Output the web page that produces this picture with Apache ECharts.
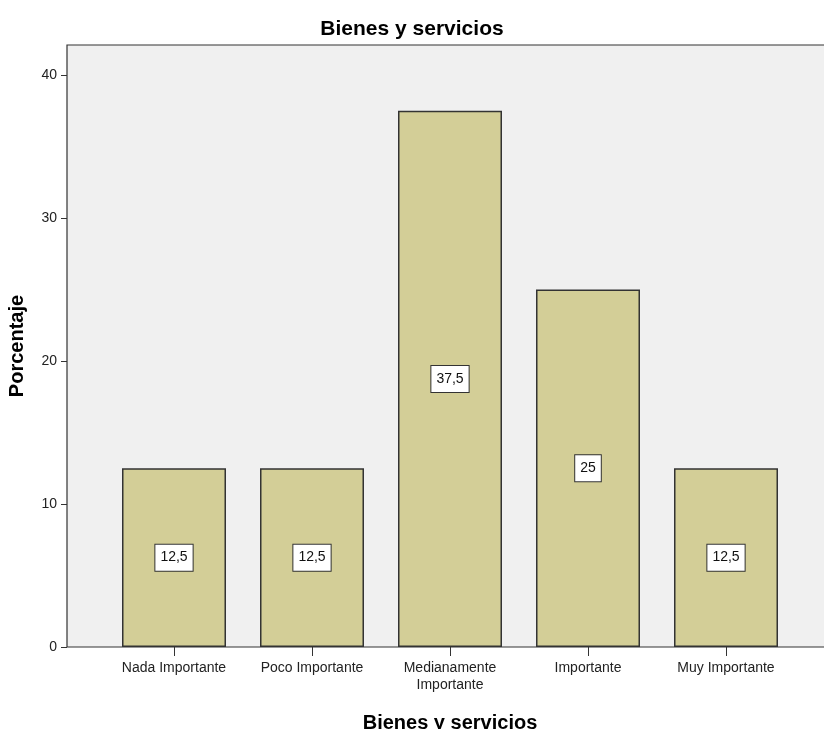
<!DOCTYPE html>
<html>
<head>
<meta charset="utf-8">
<script src="https://cdn.jsdelivr.net/npm/echarts@6/dist/echarts.min.js"></script>
<style>
  html, body { margin: 0; padding: 0; background: #fff; }
  #chart { width: 824px; height: 729px; }
</style>
</head>
<body>
<div id="chart"></div>
<script>
// datos del gráfico
const categories = ['Nada Importante', 'Poco Importante', 'Medianamente Importante', 'Importante', 'Muy Importante'];
const percentages = [12.5, 12.5, 37.5, 25, 12.5];
const yTicks = [0, 10, 20, 30, 40];
const yMax = 42.1;

const font = '"Liberation Sans", Arial, sans-serif';
const chart = echarts.init(document.getElementById('chart'));

const option = {
  animation: false,
  textStyle: { fontFamily: font },
  title: {
    text: 'Bienes y servicios',
    left: 'center',
    top: 14,
    textStyle: { fontFamily: font, fontWeight: 'bold', fontSize: 21, color: '#000' }
  },
  // grid 0: fondo gris + eje Y visible; grid 1: barras (más estrecho)
  grid: [
    { left: 67, top: 45, width: 766, bottom: 82, outerBoundsMode: 'none', show: true, backgroundColor: '#f0f0f0', borderColor: '#333', borderWidth: 1.2 },
    { left: 105, top: 45, width: 690, bottom: 82, outerBoundsMode: 'none' }
  ],
  xAxis: [
    { gridIndex: 0, type: 'value', min: 0, max: 1, show: false },
    {
      gridIndex: 1,
      type: 'category',
      data: categories,
      axisLine: { show: false },
      axisTick: { show: true, alignWithLabel: true, length: 9, lineStyle: { color: '#333' } },
      axisLabel: {
        interval: 0,
        margin: 13,
        fontSize: 14,
        lineHeight: 17,
        color: '#222',
        formatter: v => v.replace('Medianamente ', 'Medianamente\n')
      },
      name: 'Bienes y servicios',
      nameLocation: 'middle',
      nameGap: 66,
      nameTextStyle: { fontFamily: font, fontWeight: 'bold', fontSize: 20, color: '#000' }
    }
  ],
  yAxis: [
    {
      gridIndex: 0,
      type: 'value',
      min: 0,
      max: yMax,
      axisLine: { show: false },
      splitLine: { show: false },
      axisTick: { show: true, length: 6, customValues: yTicks, lineStyle: { color: '#333' } },
      axisLabel: { customValues: yTicks, fontSize: 14, color: '#222', margin: 10 },
      name: 'Porcentaje',
      nameLocation: 'middle',
      nameRotate: 90,
      nameGap: 40,
      nameTextStyle: { fontFamily: font, fontWeight: 'bold', fontSize: 20, color: '#000' }
    },
    { gridIndex: 1, type: 'value', min: 0, max: yMax, show: false }
  ],
  series: [
    {
      type: 'bar',
      xAxisIndex: 1,
      yAxisIndex: 1,
      data: percentages,
      barWidth: 104,
      itemStyle: { color: '#d3ce97', borderColor: '#333', borderWidth: 1.5 },
      label: {
        show: true,
        position: 'inside',
        formatter: p => String(p.value).replace('.', ','),
        fontSize: 14,
        color: '#111',
        backgroundColor: '#fff',
        borderColor: '#333',
        borderWidth: 1,
        padding: [6, 5, 6, 5]
      }
    }
  ]
};

chart.setOption(option);
</script>
</body>
</html>
